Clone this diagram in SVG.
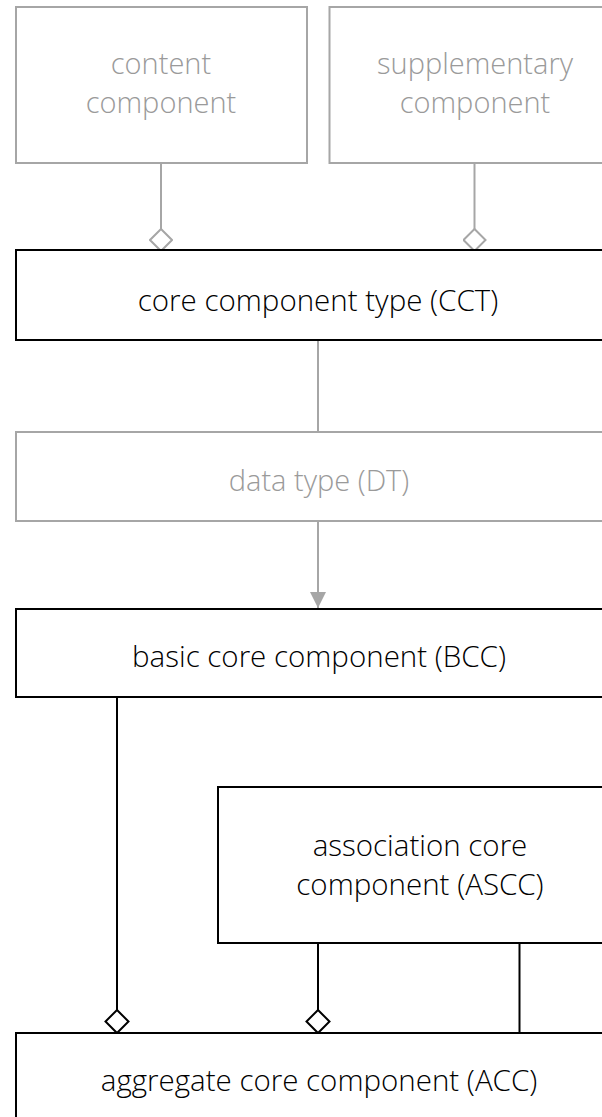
<svg xmlns="http://www.w3.org/2000/svg" width="602" height="1117" viewBox="0 0 602 1117">
<style>
  .gbox { fill: #ffffff; stroke: #a6a6a6; stroke-width: 2; }
  .bbox { fill: #ffffff; stroke: #000000; stroke-width: 2; }
  .gtxt { font-family: "Open Sans", "Liberation Sans", sans-serif; font-weight: 300; font-size: 29px; fill: #9a9a9a; text-anchor: middle; }
  .btxt { font-family: "Open Sans", "Liberation Sans", sans-serif; font-weight: 300; font-size: 29.5px; fill: #000000; text-anchor: middle; }
  .gline { fill: none; stroke: #a6a6a6; stroke-width: 2; }
  .bline { fill: none; stroke: #000000; stroke-width: 2; }
</style>
<defs>
  <marker id="gdiamond" viewBox="0 0 24 24" refX="23" refY="12" markerWidth="24" markerHeight="24" markerUnits="userSpaceOnUse" orient="auto">
    <path d="M1,12 L12,1 L23,12 L12,23 Z" fill="#ffffff" stroke="#a6a6a6" stroke-width="2"/>
  </marker>
  <marker id="bdiamond" viewBox="0 0 26 26" refX="24.5" refY="13" markerWidth="26" markerHeight="26" markerUnits="userSpaceOnUse" orient="auto">
    <path d="M1.5,13 L13,1.5 L24.5,13 L13,24.5 Z" fill="#ffffff" stroke="#000000" stroke-width="2"/>
  </marker>
  <marker id="garrow" viewBox="0 0 16 16" refX="16" refY="8" markerWidth="16" markerHeight="16" markerUnits="userSpaceOnUse" orient="auto">
    <path d="M0,0 L16,8 L0,16 Z" fill="#a6a6a6"/>
  </marker>
</defs>
<rect width="602" height="1117" fill="#ffffff"/>

<g id="connectors">
  <path class="gline" d="M161,163 L161,251" marker-end="url(#gdiamond)"/>
  <path class="gline" d="M474.5,163 L474.5,251" marker-end="url(#gdiamond)"/>
  <path class="gline" d="M318,340 L318,432"/>
  <path class="gline" d="M318,521 L318,608" marker-end="url(#garrow)"/>
  <path class="bline" d="M117,697 L117,1033" marker-end="url(#bdiamond)"/>
  <path class="bline" d="M318,943 L318,1033" marker-end="url(#bdiamond)"/>
  <path class="bline" d="M519.5,943 L519.5,1033"/>
</g>

<g id="content-component">
  <rect class="gbox" x="16" y="7" width="291" height="156"/>
  <text class="gtxt" x="161" y="74">content</text>
  <text class="gtxt" x="161" y="113">component</text>
</g>
<g id="supplementary-component">
  <rect class="gbox" x="329.5" y="7" width="291" height="156"/>
  <text class="gtxt" x="475" y="74">supplementary</text>
  <text class="gtxt" x="475" y="113">component</text>
</g>
<g id="cct">
  <rect class="bbox" x="16" y="250" width="605" height="90"/>
  <text class="btxt" x="318" y="311">core component type (CCT)</text>
</g>
<g id="dt">
  <rect class="gbox" x="16" y="432" width="605" height="89"/>
  <text class="gtxt" x="319" y="491">data type (DT)</text>
</g>
<g id="bcc">
  <rect class="bbox" x="16" y="609" width="605" height="88"/>
  <text class="btxt" x="319" y="667">basic core component (BCC)</text>
</g>
<g id="ascc">
  <rect class="bbox" x="218" y="787" width="403" height="156"/>
  <text class="btxt" x="420" y="856">association core</text>
  <text class="btxt" x="420" y="895">component (ASCC)</text>
</g>
<g id="acc">
  <rect class="bbox" x="16" y="1033" width="605" height="110"/>
  <text class="btxt" x="319" y="1091">aggregate core component (ACC)</text>
</g>
</svg>
